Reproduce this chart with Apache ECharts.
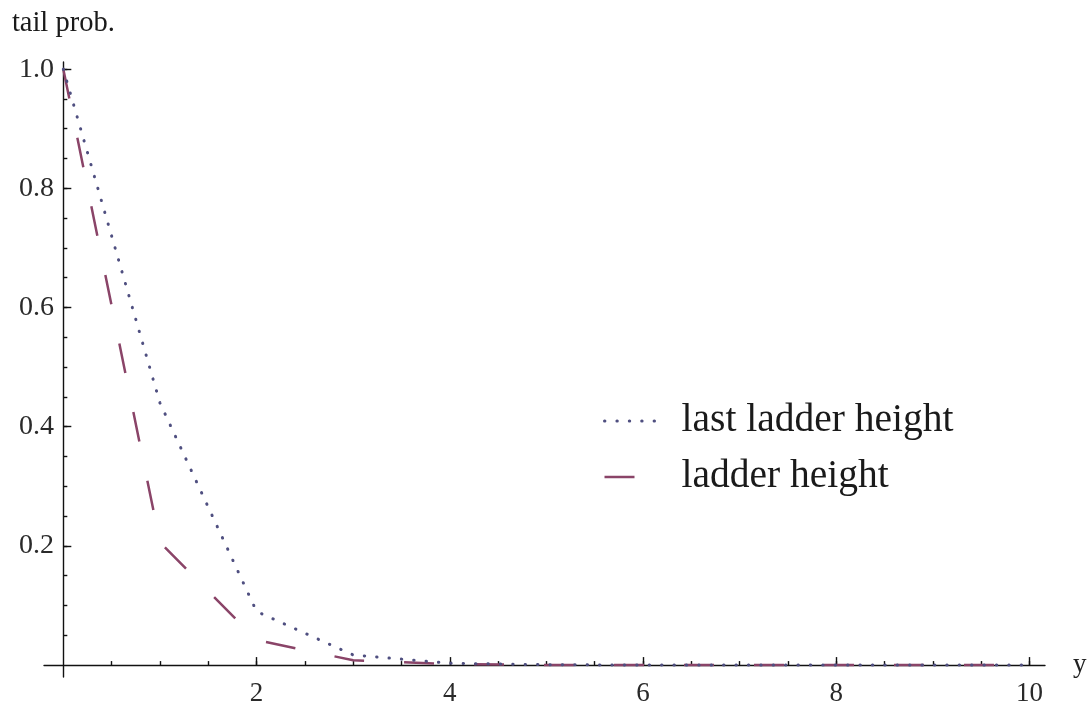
<!DOCTYPE html>
<html>
<head>
<meta charset="utf-8">
<title>tail prob.</title>
<script src="https://cdn.jsdelivr.net/npm/echarts@6/dist/echarts.min.js"></script>
<style>
  html, body { margin: 0; padding: 0; background: #ffffff; }
  #chart { width: 1088px; height: 705px; }
</style>
</head>
<body>
<div id="chart"></div>
<script>
// y values at which the tail probabilities are evaluated
const yValues = [0, 1, 2, 3, 4, 5, 6, 7, 8, 9, 10];
// P(last ladder height > y)
const lastLadderHeight = [1.0, 0.44, 0.09, 0.017, 0.003, 0.0006, 0.0001, 0.00002, 0, 0, 0];
// P(ladder height > y)
const ladderHeight = [1.0, 0.206, 0.042, 0.008, 0.0015, 0.0003, 0.00006, 0.00001, 0, 0, 0];

const seriesNames = ['last ladder height', 'ladder height'];

// tick positions and labels
const xMajorTicks = [2, 4, 6, 8, 10];
const xMinorTicks = [0.5, 1, 1.5, 2, 2.5, 3, 3.5, 4, 4.5, 5, 5.5, 6, 6.5, 7, 7.5, 8, 8.5, 9, 9.5, 10];
const yMajorTicks = [0.2, 0.4, 0.6, 0.8, 1.0];
const yMinorTicks = [0.05, 0.1, 0.15, 0.2, 0.25, 0.3, 0.35, 0.4, 0.45, 0.5, 0.55, 0.6, 0.65, 0.7, 0.75, 0.8, 0.85, 0.9, 0.95, 1.0];

const pairs = (xs, ys) => xs.map((x, i) => [x, ys[i]]);

const FONT = '"Liberation Serif", "DejaVu Serif", serif';
const AXIS_COLOR = '#111111';
const DOT_COLOR = '#4f4f80';
const DASH_COLOR = '#8a4468';

const xRange = { min: -0.2, max: 10.16 };
const yRange = { min: -0.02, max: 1.012 };

const chart = echarts.init(document.getElementById('chart'), null, { renderer: 'canvas' });

const axisLineStyle = { color: AXIS_COLOR, width: 1.4 };

const dotLine = { color: DOT_COLOR, width: 3, type: [0.4, 12], cap: 'round' };
const dashLine = { color: DASH_COLOR, width: 2.5, type: [30, 40], cap: 'butt' };
// legend keys show only the line pattern, no marker
const noMarker = { opacity: 0, borderWidth: 0 };

chart.setOption({
  animation: false,
  backgroundColor: '#ffffff',
  grid: { left: 44, top: 62, width: 1001, height: 615, containLabel: false, outerBoundsMode: 'none' },
  legend: {
    orient: 'vertical',
    left: 598,
    top: 396,
    itemWidth: 54,
    itemHeight: 38,
    itemGap: 16,
    selectedMode: false,
    itemStyle: noMarker,
    textStyle: { fontFamily: FONT, fontSize: 39.5, color: '#1a1a1a', padding: [0, 0, 0, 18] },
    data: [
      { name: seriesNames[0], lineStyle: dotLine, itemStyle: noMarker },
      { name: seriesNames[1], lineStyle: dashLine, itemStyle: noMarker }
    ]
  },
  xAxis: [
    {
      type: 'value', min: xRange.min, max: xRange.max,
      name: 'y', nameLocation: 'end', nameGap: 28,
      nameTextStyle: { fontFamily: FONT, fontSize: 27, color: '#222', verticalAlign: 'middle', padding: [0, 0, 6, 0] },
      axisLine: { show: true, onZero: true, lineStyle: axisLineStyle },
      axisTick: { show: true, inside: true, length: 8, customValues: xMajorTicks, lineStyle: axisLineStyle },
      axisLabel: { show: true, customValues: xMajorTicks, margin: 3, fontFamily: FONT, fontSize: 27, color: '#2a2a2a' },
      splitLine: { show: false }
    },
    {
      type: 'value', min: xRange.min, max: xRange.max, position: 'bottom',
      axisLine: { show: false, onZero: true },
      axisTick: { show: true, inside: true, length: 4, customValues: xMinorTicks, lineStyle: axisLineStyle },
      axisLabel: { show: false },
      splitLine: { show: false }
    }
  ],
  yAxis: [
    {
      type: 'value', min: yRange.min, max: yRange.max,
      name: 'tail prob.', nameLocation: 'end', nameGap: 24,
      nameTextStyle: { fontFamily: FONT, fontSize: 28.5, color: '#1a1a1a', align: 'center' },
      axisLine: { show: true, onZero: true, lineStyle: axisLineStyle },
      axisTick: { show: true, inside: true, length: 8, customValues: yMajorTicks, lineStyle: axisLineStyle },
      axisLabel: {
        show: true, customValues: yMajorTicks, margin: -10,
        fontFamily: FONT, fontSize: 28, color: '#2a2a2a',
        formatter: v => Number(v).toFixed(1)
      },
      splitLine: { show: false }
    },
    {
      type: 'value', min: yRange.min, max: yRange.max, position: 'left',
      axisLine: { show: false, onZero: true },
      axisTick: { show: true, inside: true, length: 4, customValues: yMinorTicks, lineStyle: axisLineStyle },
      axisLabel: { show: false },
      splitLine: { show: false }
    }
  ],
  series: [
    {
      name: seriesNames[0],
      type: 'line',
      xAxisIndex: 0, yAxisIndex: 0,
      data: pairs(yValues, lastLadderHeight),
      symbol: 'none',
      smooth: false,
      lineStyle: dotLine,
      itemStyle: { color: DOT_COLOR },
      z: 3
    },
    {
      name: seriesNames[1],
      type: 'line',
      xAxisIndex: 0, yAxisIndex: 0,
      data: pairs(yValues, ladderHeight),
      symbol: 'none',
      smooth: false,
      lineStyle: dashLine,
      itemStyle: { color: DASH_COLOR },
      z: 2
    }
  ]
});
</script>
</body>
</html>
